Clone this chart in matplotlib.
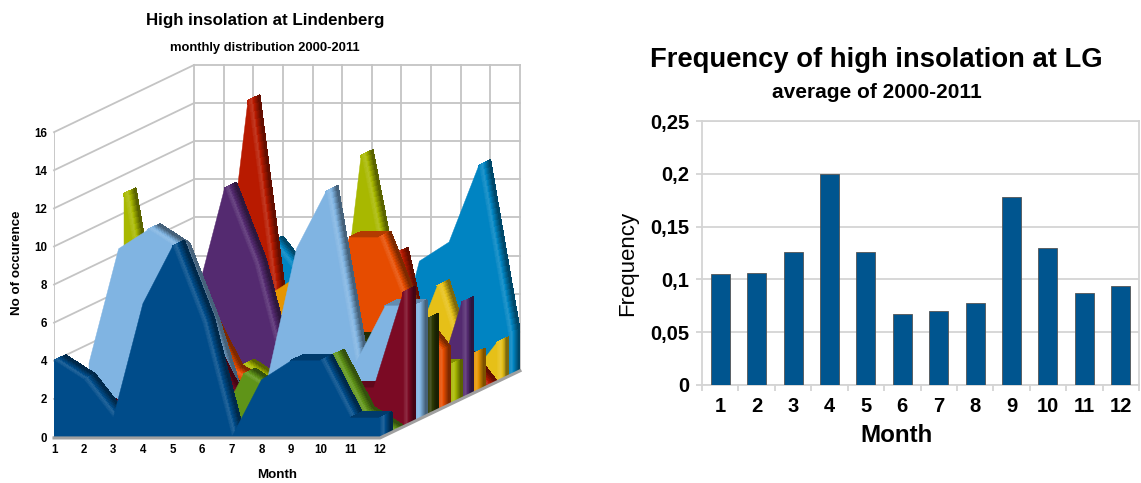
import matplotlib
matplotlib.use("Agg")
from matplotlib import pyplot as plt
from matplotlib.collections import PolyCollection
from matplotlib.colors import to_rgb
import numpy as np

plt.rcParams['font.family'] = ['Liberation Sans', 'DejaVu Sans']

W, H = 1141, 483

months = list(range(1, 13))

# left chart, one list per year slice, front to back
s00 = [4, 3, 1, 7, 10, 6, 0, 3, 4, 4, 1, 1]
s01 = [2, 1, 0, 3, 4, 0, 3, 2, 3, 4, 1, 0]
s02 = [2, 1, 2, 4, 5, 2, 0, 1, 3, 2, 2, 7]
s03 = [3, 9, 10, 9, 5, 0, 2, 9, 12, 3, 6, 6]
s04 = [2, 4, 3, 5, 2, 0, 0, 3, 4, 4, 4, 5]
s05 = [1, 3, 7, 5, 2, 1, 1, 5, 9, 9, 5, 3]
s06 = [11, 2, 1, 1, 2, 1, 0, 0, 13, 5, 2, 2]
s07 = [3, 4, 5, 11, 7, 1, 1, 2, 3, 2, 0, 5]
s08 = [1, 2, 3, 4, 5, 6, 3, 2, 2, 2, 1, 2]
s09 = [1, 1, 2, 15, 3, 2, 1, 1, 7, 0, 2, 0]
s10 = [2, 3, 4, 3, 4, 3, 2, 1, 1, 5, 0, 2]
s11 = [1, 2, 3, 7, 5, 4, 2, 0, 6, 7, 11, 2]
slices = [s00, s01, s02, s03, s04, s05, s06, s07, s08, s09, s10, s11]
slice_colors = ['#004c8a', '#5f9418', '#7b0a24', '#80b4e2', '#2c3a05', '#e64c00',
                '#a8b800', '#542a70', '#e69500', '#b81a00', '#e6c018', '#0084c2']

# right chart
frequency = [0.105, 0.106, 0.126, 0.2, 0.126, 0.067, 0.07, 0.078, 0.178, 0.13, 0.087, 0.094]
freq_ticks = [0, 0.05, 0.1, 0.15, 0.2, 0.25]
freq_labels = ['0', '0,05', '0,1', '0,15', '0,2', '0,25']

# one slice of depth, in data units of the left axes
DX = 0.3937
DY = 0.2937


def px_axes(left, right, top, bottom):
    return fig.add_axes([left / W, 1 - bottom / H, (right - left) / W, (bottom - top) / H])


def px_text(x, y, s, **kw):
    fig.text(x / W, 1 - y / H, s, ha='center', va='center', fontweight='bold', **kw)


def shade(color, f):
    c = np.array(to_rgb(color))
    if f > 1:
        return tuple(c + (1 - c) * (f - 1))
    return tuple(c * f)


def side_light(t):
    # face colour, a brighter band, then dark towards the back
    return np.interp(t, [0, 0.4, 1], [1.0, 1.14, 0.5])


def strips(ax, p0, p1, color, z, flat=False):
    # quad from edge p0-p1 going back one slice, drawn as a gradient
    n = 12
    polys, cols = [], []
    for i in range(n):
        a, b = i / n, (i + 1) / n
        polys.append([(p0[0] + a * DX, p0[1] + a * DY), (p1[0] + a * DX, p1[1] + a * DY),
                      (p1[0] + b * DX, p1[1] + b * DY), (p0[0] + b * DX, p0[1] + b * DY)])
        f = 0.78 if flat else side_light((a + b) / 2)
        cols.append(shade(color, f))
    ax.add_collection(PolyCollection(polys, facecolors=cols, edgecolors=cols, linewidths=0.6,
                                     antialiaseds=False, zorder=z))


def draw_slice(ax, values, k, color, z):
    xs = np.array(months) + k * DX
    ys = np.array(values, dtype=float) + k * DY
    base = k * DY
    # px per data unit: 29.64 in x, 19 in y
    for i in range(11):
        slope = (values[i + 1] - values[i]) * 19 / 29.64
        if slope > 0.47:
            continue
        strips(ax, (xs[i], ys[i]), (xs[i + 1], ys[i + 1]), color, z, flat=slope >= 0)
    strips(ax, (xs[-1], base), (xs[-1], ys[-1]), color, z)
    ax.fill(np.r_[xs[0], xs, xs[-1]], np.r_[base, ys, base], color=color, lw=0.3, zorder=z + 0.5)


fig = plt.figure(figsize=(W / 100, H / 100), dpi=100)

# left chart
ax = px_axes(54, 520, 65, 437)
ax.set_xlim(1, 12 + 12 * DX)
ax.set_ylim(0, 16 + 12 * DY)
for s in ax.spines.values():
    s.set_visible(False)
ax.patch.set_alpha(0)
wall = '#c4c4c4'
back_x = 1 + 12 * DX
back_r = 12 + 12 * DX
back_b = 12 * DY
for v in range(0, 17, 2):
    ax.plot([1, back_x], [v, v + back_b], color=wall, lw=1.3, zorder=0, clip_on=False)
    ax.plot([back_x, back_r], [v + back_b, v + back_b], color=wall, lw=1.3, zorder=0, clip_on=False)
for m in months:
    ax.plot([m + 12 * DX] * 2, [back_b, 16 + back_b], color=wall, lw=1.3, zorder=0, clip_on=False)
ax.plot([1, 1], [0, 16], color=wall, lw=1.3, zorder=0)
ax.plot([1, 12, back_r], [-0.05, -0.05, back_b - 0.05], color='#a0a0a0', lw=2.2, zorder=30, clip_on=False)
for k in range(11, -1, -1):
    draw_slice(ax, slices[k], k, slice_colors[k], 2 + (11 - k))
ax.set_xticks(months)
ax.set_yticks(range(0, 17, 2))
ax.tick_params(length=0, labelsize=8.3, pad=5)
for t in ax.get_xticklabels() + ax.get_yticklabels():
    t.set_fontweight('bold')

px_text(265, 20, 'High insolation at Lindenberg', fontsize=12.2)
px_text(265, 47.5, 'monthly distribution 2000-2011', fontsize=9.35)
px_text(277, 475.5, 'Month', fontsize=9.6)
px_text(17, 263, 'No of occurence', fontsize=9.6, rotation=90)

# right chart
ax2 = px_axes(702, 1139, 121, 385)
ax2.bar(months, frequency, width=0.52, color='#00558f', edgecolor='#555555', lw=0.6, zorder=3)
ax2.set_xlim(0.5, 12.5)
ax2.set_ylim(0, 0.25)
ax2.set_yticks(freq_ticks)
ax2.set_yticklabels(freq_labels)
ax2.set_xticks(months)
ax2.set_xticks(np.arange(0.5, 13, 1), minor=True)
ax2.grid(True, axis='y', color='#d4d4d4', lw=1.3, zorder=0)
for s in ax2.spines.values():
    s.set_color('#d4d4d4')
    s.set_linewidth(1.3)
ax2.tick_params(axis='y', length=4, color='#d4d4d4', width=1.3, labelsize=14.5, pad=5)
ax2.tick_params(axis='x', which='major', length=0, labelsize=14.5, pad=9)
ax2.tick_params(axis='x', which='minor', length=4, color='#d4d4d4', width=1.3)
for t in ax2.get_xticklabels() + ax2.get_yticklabels():
    t.set_fontweight('bold')

px_text(876, 60, 'Frequency of high insolation at LG', fontsize=19.7)
px_text(877, 93, 'average of 2000-2011', fontsize=15)
px_text(896, 436, 'Month', fontsize=17.4)
fig.text(628 / W, 1 - 263 / H, 'Frequency', ha='center', va='center', rotation=90, fontsize=16)

fig.savefig('out.png', dpi=100)
